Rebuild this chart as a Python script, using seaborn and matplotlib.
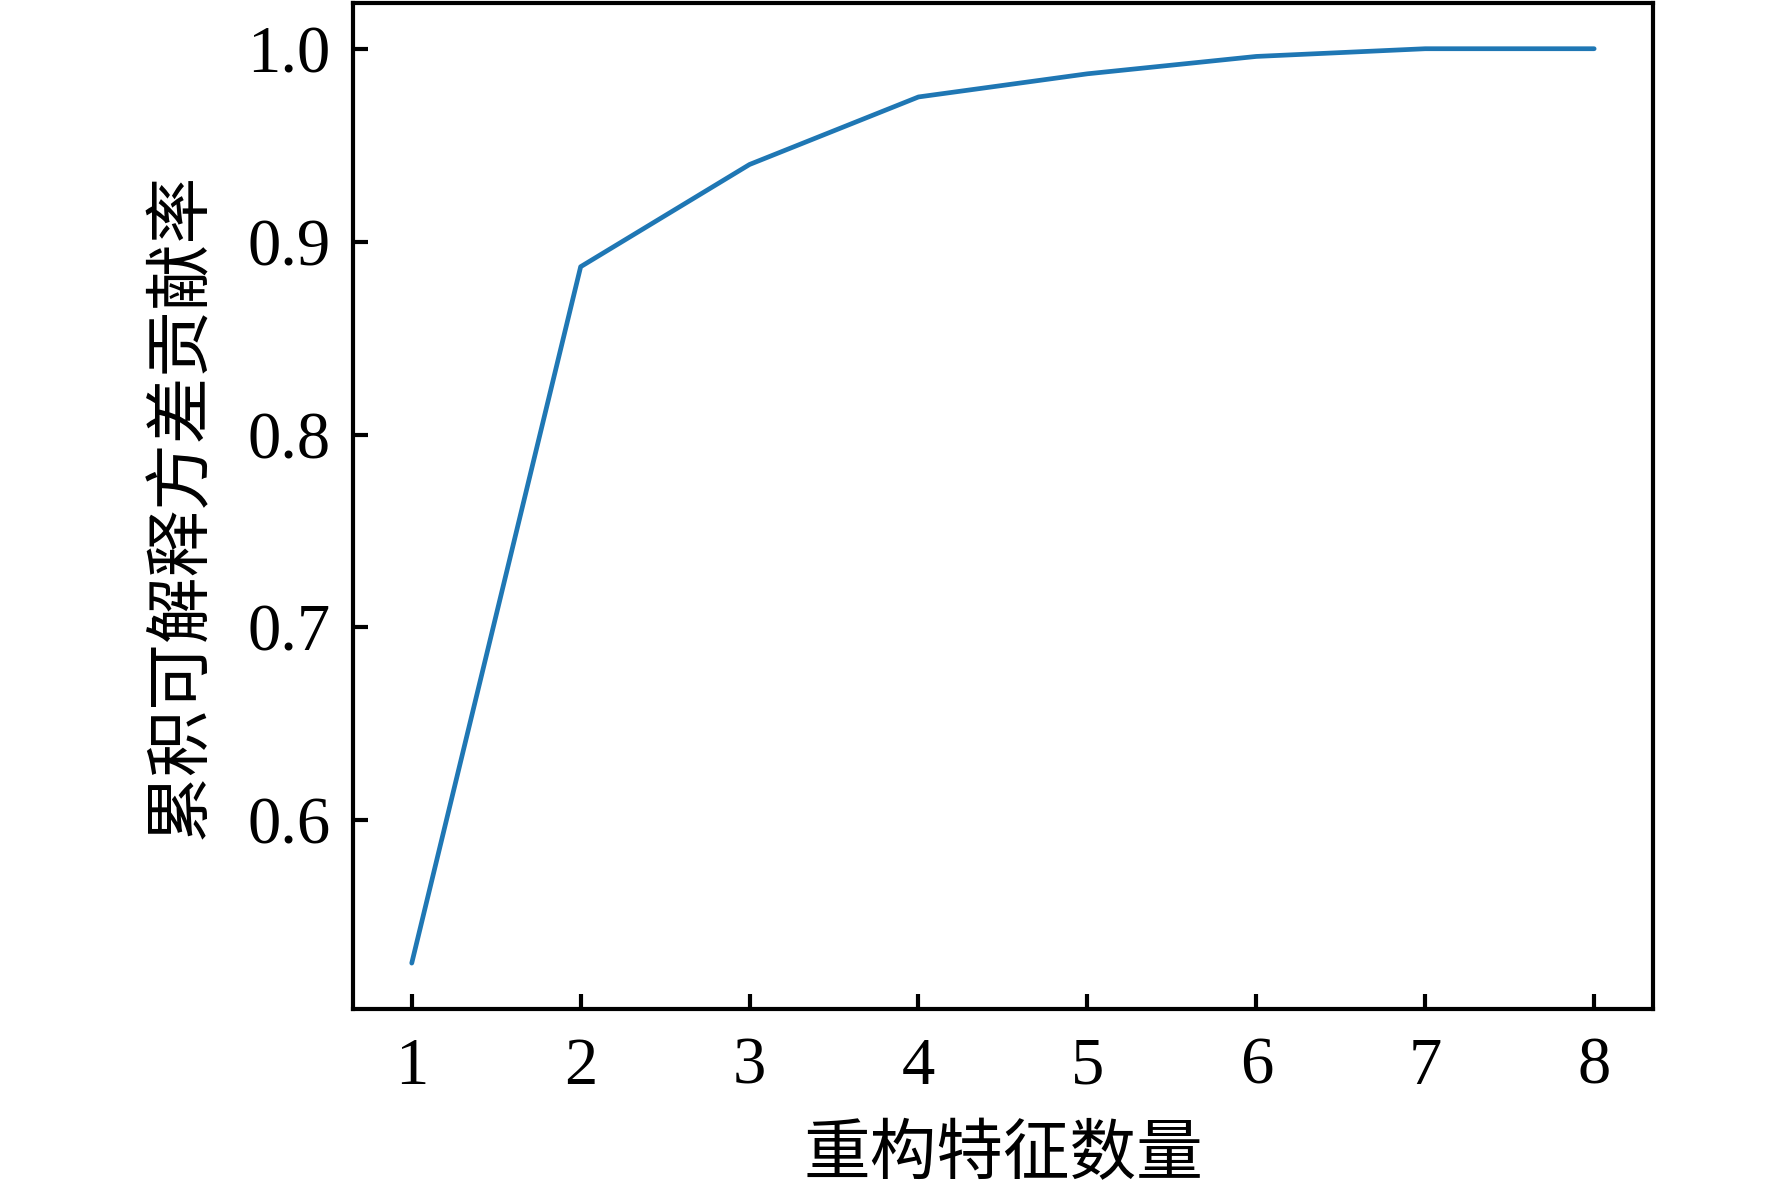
import numpy as np
import pandas as pd
import seaborn as sns
import matplotlib
matplotlib.use("Agg")
import matplotlib.pyplot as plt

# 数据：重构特征数量 与 累积可解释方差贡献率
n_features = [1, 2, 3, 4, 5, 6, 7, 8]
cum_ratio = [0.526, 0.887, 0.940, 0.975, 0.987, 0.996, 1.000, 1.000]

df = pd.DataFrame({"n": n_features, "ratio": cum_ratio})

sns.set_theme(style="ticks")
plt.rcParams['font.family'] = ['Liberation Serif', 'Noto Sans CJK SC', 'DejaVu Sans']
plt.rcParams['axes.unicode_minus'] = False
plt.rcParams['text.color'] = 'black'
plt.rcParams['axes.labelcolor'] = 'black'

fig = plt.figure(figsize=(8.86, 6.005), dpi=200)
ax = fig.add_axes([0.199, 0.16, 0.734, 0.8375])

sns.lineplot(data=df, x="n", y="ratio", color="#1f77b4", linewidth=1.7, ax=ax)

ax.set_xticks(n_features)
ax.set_yticks([0.6, 0.7, 0.8, 0.9, 1.0])
ax.set_yticklabels(["0.6", "0.7", "0.8", "0.9", "1.0"])
ax.tick_params(direction="in", length=5.5, width=1.5, labelsize=24, colors="black")
ax.tick_params(axis="x", pad=10)
ax.tick_params(axis="y", pad=8)

for s in ax.spines.values():
    s.set_visible(True)
    s.set_linewidth(1.5)
    s.set_color("black")

ax.set_xlabel("重构特征数量", fontsize=24, labelpad=10, color="black")
ax.set_ylabel("累积可解释方差贡献率", fontsize=24, labelpad=12, color="black")

fig.savefig("out.png", dpi=200)
